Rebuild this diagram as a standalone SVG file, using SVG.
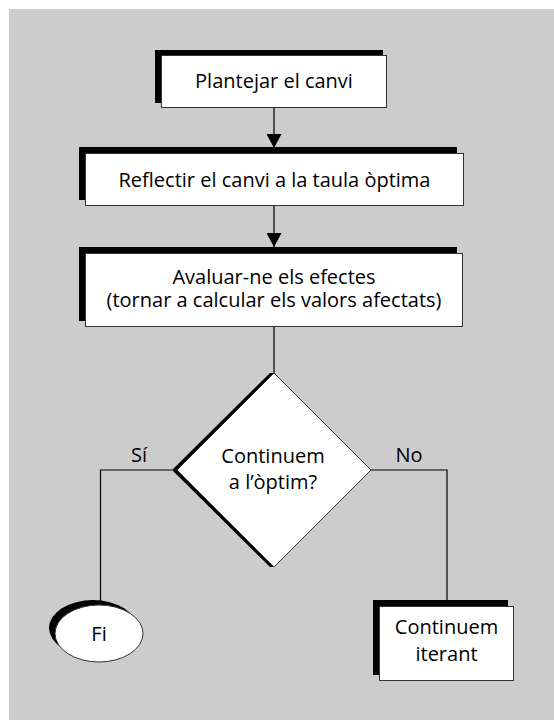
<svg xmlns="http://www.w3.org/2000/svg" width="554" height="720" viewBox="0 0 554 720">
<defs>
<style>
.shadow{fill:#000}
.box{fill:#fff;stroke:#333;stroke-width:1}
.lbl{font-family:"Open Sans","Noto Sans","DejaVu Sans",sans-serif;font-size:20px;fill:#000;text-anchor:middle}
.conn{stroke:#000;stroke-width:1.2;fill:none}
</style>
<marker id="arr" viewBox="0 0 14 15" refX="14" refY="7.5" markerWidth="14" markerHeight="15" markerUnits="userSpaceOnUse" orient="auto">
<path d="M0,0 L14,7.5 L0,15 Z" fill="#000"/>
</marker>
</defs>
<rect x="9" y="9" width="545" height="711" fill="#cccccc"/>
<g id="connectors">
<line class="conn" x1="274" y1="108" x2="274" y2="148" marker-end="url(#arr)"/>
<line class="conn" x1="274" y1="206" x2="274" y2="247" marker-end="url(#arr)"/>
<line class="conn" x1="274" y1="327" x2="274" y2="373"/>
<polyline class="conn" points="172,470 100.5,470 100.5,601"/>
<polyline class="conn" points="371,470 447,470 447,600"/>
</g>
<g id="n1">
<rect class="shadow" x="155" y="50" width="228" height="53"/>
<rect class="box" x="161.5" y="55.5" width="225" height="52"/>
<text class="lbl" x="274" y="88">Plantejar el canvi</text>
</g>
<g id="n2">
<rect class="shadow" x="79" y="147" width="378" height="53"/>
<rect class="box" x="85.5" y="153.5" width="378" height="52"/>
<text class="lbl" x="274.5" y="187">Reflectir el canvi a la taula òptima</text>
</g>
<g id="n3">
<rect class="shadow" x="79" y="247" width="378" height="74"/>
<rect class="box" x="85.5" y="253.5" width="377" height="73"/>
<text class="lbl" x="274" y="284">Avaluar-ne els efectes</text>
<text class="lbl" x="274" y="307">(tornar a calcular els valors afectats)</text>
</g>
<g id="n4">
<polygon class="shadow" points="270,373 172,470 270,567 274,567 177,470 274,373"/>
<polygon class="box" points="274,373 371,470 274,567 177,470"/>
<text class="lbl" x="273" y="463">Continuem</text>
<text class="lbl" x="273" y="489">a l’òptim?</text>
</g>
<g id="n5">
<ellipse class="shadow" cx="93" cy="628" rx="44" ry="28"/>
<ellipse class="box" cx="99" cy="633.5" rx="44" ry="28.5"/>
<text class="lbl" x="99" y="641">Fi</text>
</g>
<g id="n6">
<rect class="shadow" x="373" y="600" width="135" height="75"/>
<rect class="box" x="379.5" y="606.5" width="134" height="74"/>
<text class="lbl" x="446.5" y="634">Continuem</text>
<text class="lbl" x="446.5" y="661">iterant</text>
</g>
<g id="edge-labels">
<text class="lbl" x="139" y="462">Sí</text>
<text class="lbl" x="409" y="462">No</text>
</g>
</svg>
